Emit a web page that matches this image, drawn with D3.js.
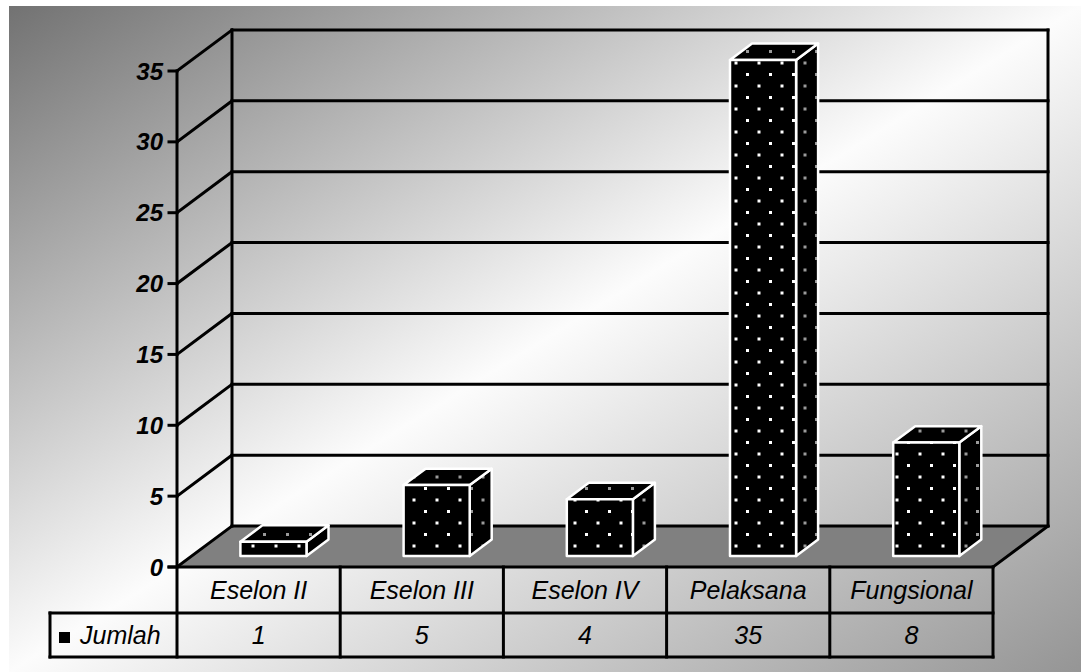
<!DOCTYPE html>
<html>
<head>
<meta charset="utf-8">
<script src="https://cdn.jsdelivr.net/npm/d3@7"></script>
<style>
  html, body { margin: 0; padding: 0; background: #ffffff; }
  svg { display: block; }
  text { font-family: "Liberation Sans", Arial, sans-serif; }
</style>
</head>
<body>
<svg id="chart" width="1081" height="672"></svg>
<script>
// Jumlah pegawai per kelompok jabatan
const categories = ["Eselon II", "Eselon III", "Eselon IV", "Pelaksana", "Fungsional"];
const values = [1, 5, 4, 35, 8];
const seriesName = "Jumlah";
const yTicks = [0, 5, 10, 15, 20, 25, 30, 35];

const svg = d3.select("#chart");
const W = 1081, H = 672;

// plot geometry
const frontLeft = 177, frontRight = 993;
const depthX = 55, depthY = -41;          // offset from front plane to back wall
const barFront = 0.27, barDepth = 0.4;    // bar position inside the depth
const barWidthFrac = 0.405;

const x = d3.scaleBand().domain(categories).range([frontLeft, frontRight]).paddingInner(0).paddingOuter(0);
const y = d3.scaleLinear().domain([0, 35]).range([567, 71]);

const defs = svg.append("defs");

// page background: diagonal grey-white-grey gradient
const bg = defs.append("linearGradient").attr("id", "bg")
  .attr("x1", 0).attr("y1", 0).attr("x2", 1).attr("y2", 1);
bg.append("stop").attr("offset", 0).attr("stop-color", "#727272");
bg.append("stop").attr("offset", 0.5).attr("stop-color", "#fcfcfc");
bg.append("stop").attr("offset", 1).attr("stop-color", "#959595");

// dotted fills for the bar faces
function dotPattern(id, color) {
  const p = defs.append("pattern").attr("id", id)
    .attr("patternUnits", "userSpaceOnUse")
    .attr("width", 23).attr("height", 23)
    .attr("x", 4).attr("y", 2);
  p.append("rect").attr("width", 23).attr("height", 23).attr("fill", "#000");
  p.append("rect").attr("x", 6).attr("y", 2).attr("width", 3).attr("height", 3).attr("fill", color);
  p.append("rect").attr("x", 17.5).attr("y", 13.5).attr("width", 3).attr("height", 3).attr("fill", color);
}
dotPattern("dotsFront", "#ffffff");
dotPattern("dotsSide", "#9a9a9a");

svg.append("rect").attr("width", W).attr("height", H).attr("fill", "#ffffff");
svg.append("rect").attr("x", 9).attr("y", 6).attr("width", W - 9).attr("height", H - 6).attr("fill", "url(#bg)");

const y0 = y(0);

// floor
svg.append("polygon")
  .attr("points", [[frontLeft, y0], [frontLeft + depthX, y0 + depthY], [frontRight + depthX, y0 + depthY], [frontRight, y0]].join(" "))
  .attr("fill", "#808080");

const lines = svg.append("g").attr("stroke", "#000").attr("stroke-width", 3).attr("fill", "none").attr("stroke-linecap", "square");

// back wall gridlines and side wall diagonals
yTicks.forEach(t => {
  lines.append("line")
    .attr("x1", frontLeft + depthX).attr("x2", frontRight + depthX)
    .attr("y1", y(t) + depthY).attr("y2", y(t) + depthY);
  lines.append("line")
    .attr("x1", frontLeft).attr("y1", y(t))
    .attr("x2", frontLeft + depthX).attr("y2", y(t) + depthY);
  lines.append("line")
    .attr("x1", frontLeft - 8).attr("x2", frontLeft)
    .attr("y1", y(t)).attr("y2", y(t));
});
// wall edges
lines.append("line").attr("x1", frontLeft + depthX).attr("x2", frontLeft + depthX)
  .attr("y1", y(35) + depthY).attr("y2", y0 + depthY);
lines.append("line").attr("x1", frontRight + depthX).attr("x2", frontRight + depthX)
  .attr("y1", y(35) + depthY).attr("y2", y0 + depthY);
lines.append("line").attr("x1", frontRight + depthX).attr("y1", y0 + depthY)
  .attr("x2", frontRight).attr("y2", y0);

// y axis labels
svg.append("g").selectAll("text").data(yTicks).join("text")
  .attr("x", 163).attr("y", d => y(d)).attr("dy", "0.36em")
  .attr("text-anchor", "end")
  .attr("font-size", 24).attr("font-weight", "bold").attr("font-style", "italic")
  .attr("fill", "#000")
  .text(d => d);

// 3D bars
const bw = x.bandwidth() * barWidthFrac;
const bdx = depthX * barDepth, bdy = depthY * barDepth;
const bars = svg.append("g").attr("stroke", "#fff").attr("stroke-width", 2.5).attr("stroke-linejoin", "round");
categories.forEach((c, i) => {
  const v = values[i];
  const cx = x(c) + x.bandwidth() / 2 + depthX * barFront;
  const xl = cx - bw / 2, xr = cx + bw / 2;
  const yb = y(0) + depthY * barFront;
  const yt = y(v) + depthY * barFront;
  const g = bars.append("g");
  g.append("polygon")
    .attr("points", [[xr, yt], [xr + bdx, yt + bdy], [xr + bdx, yb + bdy], [xr, yb]].join(" "))
    .attr("fill", "url(#dotsSide)");
  g.append("polygon")
    .attr("points", [[xl, yt], [xr, yt], [xr + bdx, yt + bdy], [xl + bdx, yt + bdy]].join(" "))
    .attr("fill", "url(#dotsSide)");
  g.append("rect")
    .attr("x", xl).attr("y", yt).attr("width", bw).attr("height", yb - yt)
    .attr("fill", "url(#dotsFront)");
});

// data table below the plot
const rowTop = y0, rowMid = 613, rowBot = 657, legendLeft = 50;
const table = svg.append("g").attr("stroke", "#000").attr("stroke-width", 3).attr("stroke-linecap", "square");
table.append("line").attr("x1", frontLeft - 8).attr("x2", frontRight).attr("y1", rowTop).attr("y2", rowTop);
table.append("line").attr("x1", legendLeft).attr("x2", frontRight).attr("y1", rowMid).attr("y2", rowMid);
table.append("line").attr("x1", legendLeft).attr("x2", frontRight).attr("y1", rowBot).attr("y2", rowBot);
table.append("line").attr("x1", frontLeft).attr("x2", frontLeft).attr("y1", y(35)).attr("y2", rowBot);
table.append("line").attr("x1", legendLeft).attr("x2", legendLeft).attr("y1", rowMid).attr("y2", rowBot);
categories.forEach(c => {
  const xe = x(c) + x.bandwidth();
  table.append("line").attr("x1", xe).attr("x2", xe).attr("y1", rowTop).attr("y2", rowBot);
});

const cells = svg.append("g").attr("font-size", 25).attr("font-style", "italic").attr("fill", "#000").attr("text-anchor", "middle");
categories.forEach((c, i) => {
  const cx = x(c) + x.bandwidth() / 2;
  cells.append("text").attr("x", cx).attr("y", (rowTop + rowMid) / 2).attr("dy", "0.36em").text(c);
  cells.append("text").attr("x", cx).attr("y", (rowMid + rowBot) / 2).attr("dy", "0.36em").text(values[i]);
});

// legend key
svg.append("rect").attr("x", 59).attr("y", 632).attr("width", 11).attr("height", 11).attr("fill", "#000");
svg.append("text").attr("x", 80).attr("y", (rowMid + rowBot) / 2).attr("dy", "0.36em")
  .attr("font-size", 25).attr("font-style", "italic").attr("fill", "#000").text(seriesName);
</script>
</body>
</html>
